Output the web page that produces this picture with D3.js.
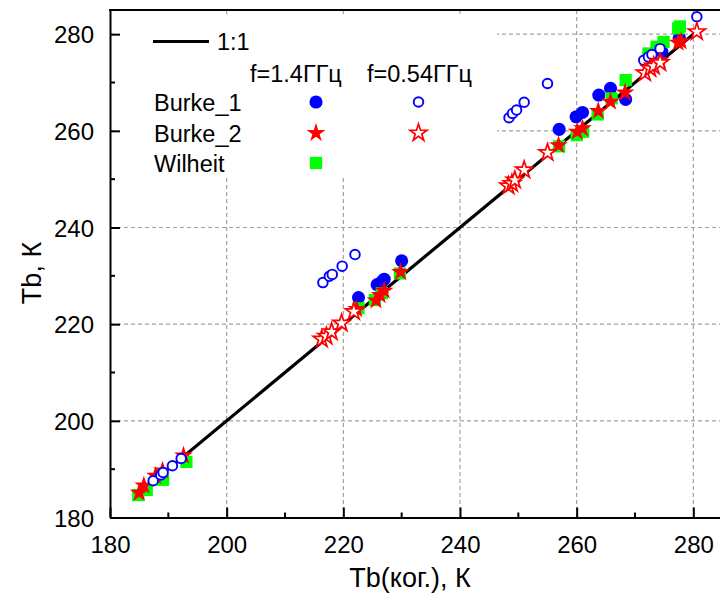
<!DOCTYPE html>
<html>
<head>
<meta charset="UTF-8">
<script src="https://d3js.org/d3.v7.min.js"></script>
<style>
  body { margin: 0; padding: 0; background: #fff; }
  svg { display: block; font-family: "Liberation Sans", Arial, sans-serif; }
  .grid line { stroke: #a0a0a0; stroke-width: 1.2; stroke-dasharray: 4,3; }
  .axis path, .axis line { stroke: #000; stroke-width: 2; }
  .axis text { font-size: 24px; fill: #000; }
</style>
</head>
<body>
<svg width="720" height="593"></svg>
<script>
// data: [Tb(ког.), Tb]
const burke1_14 = [[222.6,225.5],[225.8,228.2],[226.6,228.8],[227.0,229.3],[230.0,233.1],
  [257.0,260.3],[259.9,262.9],[261.0,263.8],[263.8,267.4],[265.8,268.8],[268.4,266.5],
  [274.6,276.4],[277.6,279.2]];
const burke1_054 = [[187.4,187.6],[188.7,188.8],[189.1,189.3],[190.7,190.7],[192.2,192.2],
  [216.5,228.6],[217.6,229.9],[218.1,230.3],[219.8,232.0],[222.0,234.4],
  [248.4,262.7],[249.0,263.6],[249.7,264.3],[251.0,265.9],[255.0,269.8],
  [271.5,274.6],[272.3,275.3],[272.9,275.8],[274.3,277.0],[280.6,283.6]];
const burke2_14 = [[185.0,185.1],[185.8,186.6],[187.8,188.6],[189.0,189.7],[192.6,192.8],
  [222.3,223.1],[225.6,224.9],[226.3,226.0],[227.0,226.9],[229.8,230.8],
  [256.9,257.0],[260.1,259.8],[261.0,260.5],[263.7,264.1],[265.8,266.0],[268.3,267.9],
  [274.3,274.6],[277.4,278.2],[277.9,278.5]];
const burke2_054 = [[216.3,216.9],[217.1,217.5],[218.0,218.4],[219.7,220.2],[221.8,222.6],
  [248.3,248.6],[248.9,249.1],[249.4,249.8],[251.0,251.9],[255.0,255.5],
  [271.7,272.0],[272.6,272.9],[273.2,273.4],[274.3,274.1],[280.6,280.5]];
const wilheit_14 = [[184.85,184.65],[186.3,185.7],[189.1,187.8],[193.1,191.5],
  [222.6,223.3],[225.4,225.0],[226.6,226.4],[229.7,230.5],
  [257.0,256.8],[260.0,259.1],[261.1,259.8],[263.6,263.4],[266.0,266.7],[268.4,270.5],
  [272.3,276.0],[273.7,277.4],[274.9,278.4],[277.4,281.2],[277.7,281.6]];
const lineOneToOne = [[185,185],[280,280]];
const majorTicks = [180, 200, 220, 240, 260, 280];
const minorTicks = [190, 210, 230, 250, 270];
const freqLabels = ["f=1.4ГГц", "f=0.54ГГц"];

const svg = d3.select("svg");
const x = d3.scaleLinear().domain([180, 285]).range([110, 722.5]);
const y = d3.scaleLinear().domain([180, 285]).range([517.5, 10]);

// grid
const grid = svg.append("g").attr("class", "grid");
grid.selectAll(".gx").data(majorTicks.slice(1)).enter().append("line")
  .attr("x1", d => x(d)).attr("x2", d => x(d)).attr("y1", y(285)).attr("y2", y(180));
grid.selectAll(".gy").data(majorTicks.slice(1)).enter().append("line")
  .attr("y1", d => y(d)).attr("y2", d => y(d)).attr("x1", x(180)).attr("x2", x(285));

// legend background covers grid
svg.append("rect").attr("x", 115).attr("y", 15).attr("width", 382).attr("height", 163).attr("fill", "#fff");

// 1:1 line
const line = d3.line().x(d => x(d[0])).y(d => y(d[1]));
svg.append("path").datum(lineOneToOne).attr("d", line)
  .attr("stroke", "#000").attr("stroke-width", 3.2).attr("fill", "none");

const sym = (type, size) => d3.symbol().type(type).size(size)();

// marker styles: [type, size, fill, stroke, stroke-width]
const mB1f = [d3.symbolCircle, 135, "#0000ff", "none", 0];
const mB1o = [d3.symbolCircle, 72, "#fff", "#0000ff", 1.9];
const mB2f = [d3.symbolStar, 110, "#ff0000", "none", 0];
const mB2o = [d3.symbolStar, 90, "#fff", "#ff0000", 1.7];
const mW = [d3.symbolSquare, 150, "#00ff00", "none", 0];

function drawSeries(data, s) {
  svg.append("g").selectAll("path").data(data).enter().append("path")
    .attr("transform", d => `translate(${x(d[0])},${y(d[1])})`)
    .attr("d", sym(s[0], s[1]))
    .attr("fill", s[2]).attr("stroke", s[3]).attr("stroke-width", s[4]);
}
drawSeries(burke1_14, mB1f);
drawSeries(wilheit_14, mW);
drawSeries(burke2_14, mB2f);
drawSeries(burke1_054, mB1o);
drawSeries(burke2_054, mB2o);

// axes
const xAxis = d3.axisBottom(x).tickValues(majorTicks).tickSizeInner(-10).tickSizeOuter(0).tickPadding(18);
const yAxis = d3.axisLeft(y).tickValues(majorTicks).tickSizeInner(-10).tickSizeOuter(0).tickPadding(16);
const gx = svg.append("g").attr("class", "axis").attr("transform", `translate(0,${y(180)})`).call(xAxis);
const gy = svg.append("g").attr("class", "axis").attr("transform", `translate(${x(180)},0)`).call(yAxis);
gx.append("g").selectAll("line").data(minorTicks).enter().append("line")
  .attr("x1", d => x(d)).attr("x2", d => x(d)).attr("y1", 0).attr("y2", -5);
gy.append("g").selectAll("line").data(minorTicks).enter().append("line")
  .attr("y1", d => y(d)).attr("y2", d => y(d)).attr("x1", 0).attr("x2", 5);
gy.selectAll(".tick text").attr("dy", "0.36em");
// top border
svg.append("line").attr("x1", x(180) - 1).attr("x2", 720).attr("y1", y(285)).attr("y2", y(285))
  .attr("stroke", "#000").attr("stroke-width", 2);

// axis titles
svg.append("text").attr("x", 410).attr("y", 587).attr("text-anchor", "middle")
  .attr("font-size", 27).text("Tb(ког.), К");
svg.append("text").attr("transform", "translate(41,273) rotate(-90)").attr("text-anchor", "middle")
  .attr("font-size", 27).text("Tb, К");

// legend
const lg = svg.append("g").attr("font-size", 23.5);
lg.append("line").attr("x1", 153).attr("x2", 209).attr("y1", 41.5).attr("y2", 41.5)
  .attr("stroke", "#000").attr("stroke-width", 3.2);
lg.append("text").attr("x", 217).attr("y", 50).text("1:1");
lg.append("text").attr("x", 250).attr("y", 82).text(freqLabels[0]);
lg.append("text").attr("x", 367).attr("y", 82).text(freqLabels[1]);
const rows = [
  { name: "Burke_1", y: 102, a: mB1f, b: mB1o },
  { name: "Burke_2", y: 133, a: mB2f, b: mB2o },
  { name: "Wilheit", y: 163, a: mW, b: null }
];
rows.forEach(r => {
  lg.append("text").attr("x", 154).attr("y", r.y + 8.5).text(r.name);
  const m = (s, cx) => lg.append("path").attr("transform", `translate(${cx},${r.y})`)
    .attr("d", sym(s[0], s[1])).attr("fill", s[2]).attr("stroke", s[3]).attr("stroke-width", s[4]);
  m(r.a, 316);
  if (r.b) m(r.b, 418.5);
});
</script>
</body>
</html>
